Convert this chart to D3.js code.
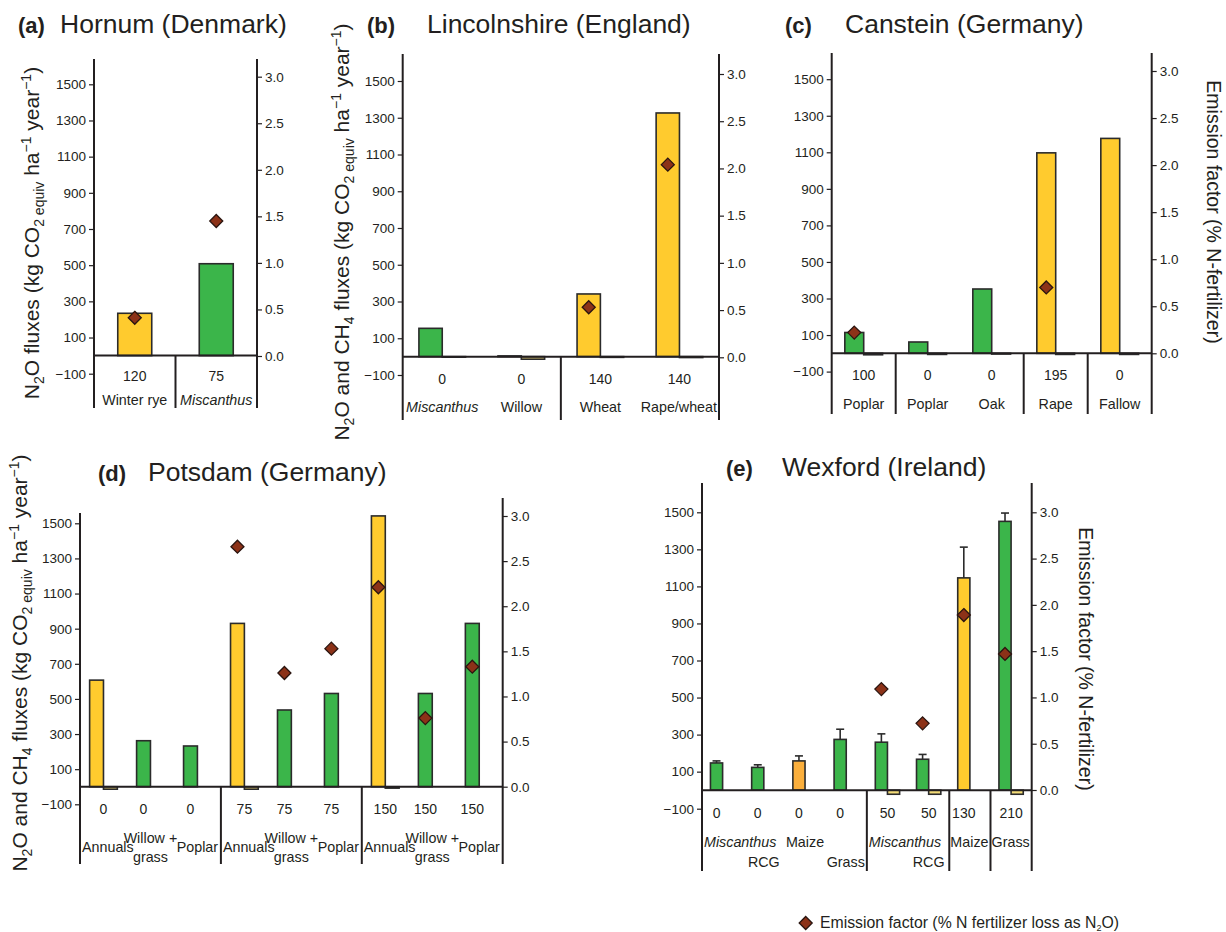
<!DOCTYPE html>
<html>
<head>
<meta charset="utf-8">
<script src="https://cdn.jsdelivr.net/npm/d3@7"></script>
<style>
  body { margin: 0; background: #fff; }
  text { font-family: "Liberation Sans", Arial, sans-serif; fill: #231f20; }
</style>
</head>
<body>
<svg id="chart" width="1226" height="932"></svg>
<script>
// ---------- data ----------
const fluxTicks = [-100, 100, 300, 500, 700, 900, 1100, 1300, 1500];
const efTicks = [0, 0.5, 1, 1.5, 2, 2.5, 3];

// (a) Hornum (Denmark)
const cropA = ["Winter rye", "Miscanthus"];
const rateA = ["120", "75"];
const n2oA = [234, 508];
const efA = [0.41, 1.45];
const typeA = ["annual", "perennial"];
const groupA = [1, 1];

// (b) Lincolnshire (England)
const cropB = ["Miscanthus", "Willow", "Wheat", "Rape/wheat"];
const rateB = ["0", "0", "140", "140"];
const n2oB = [154, 4, 341, 1326];
const ch4B = [-3, -14, -4, -5];
const efB = [null, null, 0.53, 2.04];
const typeB = ["perennial", "perennial", "annual", "annual"];
const groupB = [2, 2];

// (c) Canstein (Germany)
const cropC = ["Poplar", "Poplar", "Oak", "Rape", "Fallow"];
const rateC = ["100", "0", "0", "195", "0"];
const n2oC = [114, 62, 352, 1097, 1176];
const ch4C = [-8, -6, -4, -6, -6];
const efC = [0.22, null, null, 0.70, null];
const typeC = ["perennial", "perennial", "perennial", "annual", "annual"];
const groupC = [1, 2, 1, 1];

// (d) Potsdam (Germany)
const cropD = ["Annuals", "Willow +|grass", "Poplar", "Annuals", "Willow +|grass", "Poplar", "Annuals", "Willow +|grass", "Poplar"];
const rateD = ["0", "0", "0", "75", "75", "75", "150", "150", "150"];
const n2oD = [607, 262, 232, 930, 437, 531, 1542, 531, 930];
const ch4D = [-14, 0, 0, -14, 0, 0, -8, 0, 0];
const efD = [null, null, null, 2.66, 1.26, 1.53, 2.21, 0.76, 1.33];
const typeD = ["annual", "perennial", "perennial", "annual", "perennial", "perennial", "annual", "perennial", "perennial"];
const groupD = [3, 3, 3];

// (e) Wexford (Ireland)
const cropE = ["Miscanthus", "RCG", "Maize", "Grass", "Miscanthus", "RCG", "Maize", "Grass"];
const rateE = ["0", "0", "0", "0", "50", "50", "130", "210"];
const n2oE = [147, 123, 158, 274, 259, 167, 1146, 1451];
const errE = [11, 14, 27, 55, 45, 26, 166, 45];
const ch4E = [0, 0, 0, 0, -22, -22, 0, -22];
const efE = [null, null, null, null, 1.09, 0.72, 1.89, 1.47];
const typeE = ["perennial", "perennial", "control", "perennial", "perennial", "perennial", "annual", "perennial"];
const groupE = [4, 2, 1, 1];
const rowE = [0, 1, 0, 1, 0, 1, 0, 0];

const colors = { annual: "#FFCB2E", perennial: "#3BB54A", control: "#FBAF3C" };
const ch4Color = "#F4DC78";
const ink = "#231f20";

const panels = [
  { tag: "(a)", title: "Hornum (Denmark)", crops: cropA, rates: rateA, n2o: n2oA, ef: efA, type: typeA, groups: groupA,
    x0: 94, x1: 257, yTop: 59, yTopR: 59, yBot: 408, yFlux: [373.7, 84.3], yEF: [356, 76.7],
    tagX: 18, titleX: 60, titleY: 33, rateY: 380.5, nameY: 405 },
  { tag: "(b)", title: "Lincolnshire (England)", crops: cropB, rates: rateB, n2o: n2oB, ch4: ch4B, ef: efB, type: typeB, groups: groupB,
    x0: 402.7, x1: 719, yTop: 54, yTopR: 54, yBot: 420, yFlux: [375, 81], yEF: [357.3, 74],
    tagX: 367, titleX: 427, titleY: 33, rateY: 384, nameY: 412 },
  { tag: "(c)", title: "Canstein (Germany)", crops: cropC, rates: rateC, n2o: n2oC, ch4: ch4C, ef: efC, type: typeC, groups: groupC,
    x0: 831.7, x1: 1151.7, yTop: 53, yTopR: 53, yBot: 414, yFlux: [371.6, 79.2], yEF: [353.3, 71],
    tagX: 785, titleX: 845, titleY: 33, rateY: 380, nameY: 409 },
  { tag: "(d)", title: "Potsdam (Germany)", crops: cropD, rates: rateD, n2o: n2oD, ch4: ch4D, ef: efD, type: typeD, groups: groupD,
    x0: 80, x1: 502.7, yTop: 513, yTopR: 498, yBot: 864, yFlux: [804.3, 523.3], yEF: [786.7, 516],
    tagX: 98, titleX: 148, titleY: 481, rateY: 814, nameY: 852 },
  { tag: "(e)", title: "Wexford (Ireland)", crops: cropE, rates: rateE, n2o: n2oE, ch4: ch4E, err: errE, ef: efE, type: typeE, groups: groupE, rows: rowE,
    x0: 702, x1: 1031.7, yTop: 483, yTopR: 483, yBot: 871, yFlux: [808.7, 512.3], yEF: [790, 512.3],
    tagX: 726, titleX: 782, titleY: 476, rateY: 818, nameY: 847 }
];

const svg = d3.select("#chart");
const diamond = r => `M0,${-r}L${r},0L0,${r}L${-r},0Z`;

function styleAxis(sel) {
  sel.select(".domain").remove();
  sel.attr("font-family", null).attr("font-size", null);
  sel.selectAll(".tick line").attr("stroke", ink).attr("stroke-width", 1.2);
  sel.selectAll(".tick text").attr("fill", ink).style("font-size", "13.5px");
}

function drawPanel(p) {
  const g = svg.append("g");
  const n = p.crops.length;
  const x = d3.scaleBand().domain(d3.range(n)).range([p.x0, p.x1]);
  const y = d3.scaleLinear().domain([-100, 1500]).range(p.yFlux);
  const yR = d3.scaleLinear().domain([0, 3]).range(p.yEF);
  const step = x.step();
  const w = step * (p.ch4 ? 0.295 : 0.417);
  const cx = i => x(i) + step / 2;
  const barX = i => p.ch4 ? cx(i) - w : cx(i) - w / 2;
  const barC = i => barX(i) + w / 2;
  const y0 = y(0);
  const idx = d3.range(n);

  // title
  g.append("text").attr("x", p.tagX).attr("y", p.titleY)
    .attr("font-weight", "bold").style("font-size", "22px").text(p.tag);
  g.append("text").attr("x", p.titleX).attr("y", p.titleY).style("font-size", "26.5px").text(p.title);

  // axes ticks
  g.append("g").attr("transform", `translate(${p.x0},0)`)
    .call(d3.axisLeft(y).tickValues(fluxTicks).tickSize(5).tickPadding(3).tickFormat(d3.format("d")))
    .call(styleAxis);
  g.append("g").attr("transform", `translate(${p.x1},0)`)
    .call(d3.axisRight(yR).tickValues(efTicks).tickSize(5).tickPadding(3).tickFormat(d3.format(".1f")))
    .call(styleAxis);

  // N2O bars
  g.append("g").selectAll("rect").data(idx).join("rect")
    .attr("x", barX).attr("width", w)
    .attr("y", i => y(p.n2o[i])).attr("height", i => y0 - y(p.n2o[i]))
    .attr("fill", i => colors[p.type[i]])
    .attr("stroke", "#2b2b2b").attr("stroke-width", 1.6);

  // CH4 bars
  if (p.ch4) {
    g.append("g").selectAll("rect").data(idx.filter(i => p.ch4[i] !== 0)).join("rect")
      .attr("x", cx).attr("width", w)
      .attr("y", i => Math.min(y0, y(p.ch4[i])))
      .attr("height", i => Math.abs(y(p.ch4[i]) - y0))
      .attr("fill", ch4Color)
      .attr("stroke", "#2b2b2b").attr("stroke-width", 1.6);
  }

  // error bars
  if (p.err) {
    const eg = g.append("g").attr("stroke", "#2b2b2b").attr("stroke-width", 1.6);
    idx.forEach(i => {
      const top = y(p.n2o[i] + p.err[i]);
      eg.append("line").attr("x1", barC(i)).attr("x2", barC(i)).attr("y1", y(p.n2o[i])).attr("y2", top);
      eg.append("line").attr("x1", barC(i) - 4).attr("x2", barC(i) + 4).attr("y1", top).attr("y2", top);
    });
  }

  // frame lines
  const lg = g.append("g").attr("stroke", ink).attr("stroke-width", 2);
  lg.append("line").attr("x1", p.x0).attr("x2", p.x0).attr("y1", p.yTop).attr("y2", p.yBot);
  lg.append("line").attr("x1", p.x1).attr("x2", p.x1).attr("y1", p.yTopR).attr("y2", p.yBot);
  lg.append("line").attr("x1", p.x0).attr("x2", p.x1).attr("y1", y0).attr("y2", y0);
  const bounds = [p.x0];
  let k = 0;
  p.groups.forEach(s => { k += s; bounds.push(p.x0 + k * step); });
  bounds.slice(1, -1).forEach(bx => {
    lg.append("line").attr("x1", bx).attr("x2", bx).attr("y1", y0).attr("y2", p.yBot);
  });
  const groupOf = i => { let c = 0; for (let j = 0; j < p.groups.length; j++) { c += p.groups[j]; if (i < c) return j; } };

  // diamonds
  g.append("g").selectAll("path").data(idx.filter(i => p.ef[i] != null)).join("path")
    .attr("d", diamond(6.5))
    .attr("transform", i => `translate(${barC(i)},${yR(p.ef[i])})`)
    .attr("fill", "#8C3218").attr("stroke", "#2a1510").attr("stroke-width", 1.3);

  // category labels
  idx.forEach(i => {
    const lx = (p.ch4 && p.ch4[i] !== 0) ? cx(i) : barC(i);
    g.append("text").attr("x", lx).attr("y", p.rateY).attr("text-anchor", "middle")
      .style("font-size", "14px").text(p.rates[i]);
    const lines = p.crops[i].split("|");
    const gi = groupOf(i);
    const gl = bounds[gi] + 2, gr = bounds[gi + 1] - 2;
    lines.forEach((ln, li) => {
      let ny = p.nameY;
      if (lines.length > 1) ny = p.nameY - 9.5 + li * 19;
      if (p.rows && p.rows[i] === 1) ny = p.nameY + 20;
      const tx = g.append("text").attr("y", ny).attr("text-anchor", "start")
        .style("font-size", "14.3px")
        .style("font-style", ln === "Miscanthus" ? "italic" : null)
        .text(ln);
      const tw = tx.node().getComputedTextLength();
      let left = cx(i) - tw / 2;
      if (left < gl) left = gl;
      if (left + tw > gr) left = gr - tw;
      tx.attr("x", left);
    });
  });
}

panels.forEach(drawPanel);

// y axis titles
function fluxLabel(xb, yc, withCH4) {
  const t = svg.append("text").attr("transform", `translate(${xb},${yc}) rotate(-90)`)
    .attr("text-anchor", "middle").style("font-size", "21px");
  t.append("tspan").text("N");
  t.append("tspan").attr("dy", 5).style("font-size", "14px").text("2");
  if (withCH4) {
    t.append("tspan").attr("dy", -5).text("O and CH");
    t.append("tspan").attr("dy", 5).style("font-size", "14px").text("4");
    t.append("tspan").attr("dy", -5).text(" fluxes (kg CO");
  } else {
    t.append("tspan").attr("dy", -5).text("O fluxes (kg CO");
  }
  t.append("tspan").attr("dy", 5).style("font-size", "14px").text("2");
  t.append("tspan").style("font-size", "14px").text(" equiv");
  t.append("tspan").attr("dy", -5).text(" ha");
  t.append("tspan").attr("dy", -8).style("font-size", "14px").text("−1");
  t.append("tspan").attr("dy", 8).text(" year");
  t.append("tspan").attr("dy", -8).style("font-size", "14px").text("−1");
  t.append("tspan").attr("dy", 8).text(")");
}
fluxLabel(38.5, 233, false);
fluxLabel(349, 232, true);
fluxLabel(26.5, 663, true);

function efLabel(xb, yc) {
  svg.append("text").attr("transform", `translate(${xb},${yc}) rotate(90)`)
    .attr("text-anchor", "middle").style("font-size", "19.5px")
    .text("Emission factor (% N-fertilizer)");
}
efLabel(1207, 212);
efLabel(1078.5, 659);

// legend
svg.append("path").attr("d", diamond(6.5)).attr("transform", "translate(805.7,923)")
  .attr("fill", "#8C3218").attr("stroke", "#2a1510").attr("stroke-width", 1.3);
const leg = svg.append("text").attr("x", 820).attr("y", 928).style("font-size", "15.8px");
leg.append("tspan").text("Emission factor (% N fertilizer loss as N");
leg.append("tspan").attr("dy", 3).style("font-size", "9px").text("2");
leg.append("tspan").attr("dy", -3).text("O)");
</script>
</body>
</html>
